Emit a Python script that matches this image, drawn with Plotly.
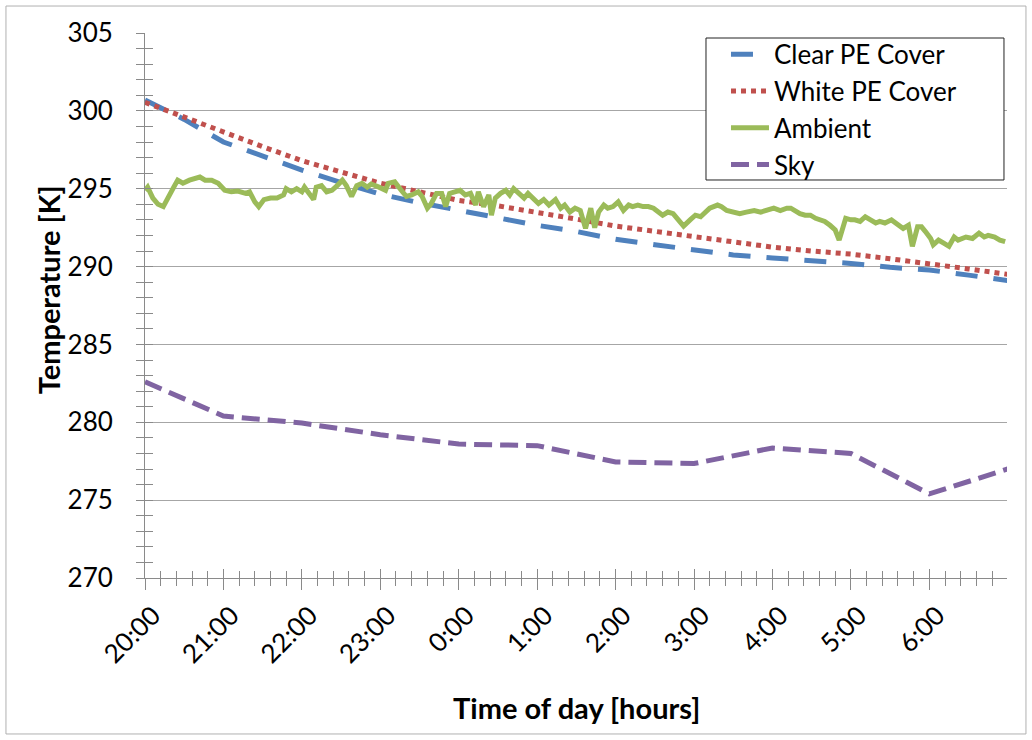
import plotly.graph_objects as go

# ---- data -------------------------------------------------------------
# time axis: hours elapsed since 20:00
hour_ticks = list(range(11))
hour_labels = ["20:00", "21:00", "22:00", "23:00", "0:00", "1:00",
               "2:00", "3:00", "4:00", "5:00", "6:00"]

# cover temperatures, sampled every half hour
cover_hours = [0.0, 0.5, 1.0, 1.5, 2.0, 2.5, 3.0, 3.5, 4.0, 4.5, 5.0, 5.5,
               6.0, 6.5, 7.0, 7.5, 8.0, 8.5, 9.0, 9.5, 10.0, 10.5, 11.0]
clear_pe = [300.7, 299.45, 298.0, 297.1, 296.2, 295.4, 294.65, 294.1, 293.6,
            293.1, 292.65, 292.25, 291.75, 291.4, 291.05, 290.75, 290.55,
            290.38, 290.2, 289.95, 289.78, 289.45, 289.1]
white_pe = [300.55, 299.6, 298.6, 297.7, 296.8, 296.05, 295.35, 294.8, 294.25,
            293.9, 293.5, 293.05, 292.6, 292.25, 291.9, 291.55, 291.25, 291.0,
            290.8, 290.5, 290.2, 289.85, 289.5]

# ambient air temperature (minutes after 20:00)
ambient_min = [0, 2, 6, 10, 14, 18, 22, 25, 29, 34, 38, 42, 46, 51, 56, 61,
               66, 71, 77, 80, 84, 87, 91, 96, 101, 106, 108, 112, 116, 120,
               122, 126, 129, 131, 135, 139, 143, 147, 151, 154, 158, 162,
               166, 170, 173, 179, 184, 186, 191, 196, 200, 204, 209, 212,
               216, 219, 223, 227, 230, 233, 237, 241, 245, 249, 253, 255,
               259, 263, 265, 268, 272, 276, 279, 282, 286, 290, 293, 297,
               301, 305, 309, 314, 318, 321, 325, 329, 333, 337, 341, 344,
               347, 351, 354, 358, 362, 366, 370, 373, 377, 381, 385, 389,
               393, 396, 400, 404, 408, 412, 417, 421, 425, 429, 432, 438,
               441, 445, 450, 455, 460, 466, 471, 476, 481, 486, 491, 494,
               497, 501, 505, 509, 513, 517, 520, 524, 528, 531, 533, 536,
               540, 543, 547, 551, 555, 559, 562, 566, 571, 576, 580, 584,
               587, 591, 594, 597, 601, 603, 607, 611, 615, 619, 622, 628,
               633, 638, 642, 645, 650, 654, 658]
ambient = [294.9, 295.1, 294.4, 294.0, 293.85, 294.4, 295.1, 295.55, 295.35,
           295.55, 295.65, 295.75, 295.55, 295.55, 295.35, 294.9, 294.8,
           294.85, 294.7, 294.8, 294.15, 293.85, 294.3, 294.4, 294.4, 294.6,
           295.0, 294.8, 295.0, 294.8, 295.1, 294.6, 294.3, 295.1, 295.2,
           294.8, 294.9, 295.2, 295.55, 295.2, 294.5, 295.2, 295.35, 295.1,
           295.3, 295.1, 294.9, 295.35, 295.45, 294.9, 294.5, 294.6, 294.8,
           294.5, 293.75, 294.05, 294.7, 294.7, 293.85, 294.7, 294.8, 294.9,
           294.6, 294.7, 293.95, 294.8, 293.85, 294.6, 293.3, 294.4, 294.7,
           294.9, 294.6, 295.0, 294.7, 294.4, 294.7, 294.4, 294.05, 294.3,
           293.95, 294.3, 293.75, 293.95, 293.5, 293.75, 293.6, 292.45,
           293.75, 292.5, 293.5, 293.95, 293.75, 293.85, 294.15, 293.6,
           293.95, 293.85, 293.95, 293.85, 293.85, 293.75, 293.5, 293.3,
           293.5, 293.4, 293.0, 292.6, 293.0, 293.3, 293.2, 293.5, 293.75,
           293.95, 293.85, 293.6, 293.5, 293.4, 293.5, 293.6, 293.5, 293.6,
           293.75, 293.6, 293.75, 293.75, 293.6, 293.4, 293.3, 293.3, 293.1,
           293.0, 292.9, 292.65, 292.35, 291.7, 292.25, 293.1, 293.0, 293.0,
           292.9, 293.2, 293.0, 292.8, 292.9, 292.8, 293.0, 292.65, 292.45,
           292.65, 291.3, 292.55, 292.55, 292.25, 291.8, 291.4, 291.7, 291.5,
           291.3, 291.9, 291.7, 291.9, 291.8, 292.15, 291.9, 292.0, 291.9,
           291.7, 291.6]

# effective sky temperature, hourly
sky_hours = [0, 1, 2, 3, 4, 5, 6, 7, 8, 9, 10, 11]
sky = [282.6, 280.4, 279.95, 279.2, 278.6, 278.5, 277.45, 277.35, 278.35,
       278.0, 275.4, 277.0]

# ---- styling ----------------------------------------------------------
FONT = "Lato"
AXIS_GREY = "#8a8a8a"
GRID_GREY = "#a6a6a6"
X_RANGE = [0, 10.99]
Y_RANGE = [270, 305]
TICK_SIZE = 26
TITLE_SIZE = 29
LEGEND_SIZE = 26

fig = go.Figure()

fig.add_trace(go.Scatter(
    x=cover_hours, y=clear_pe, name="Clear PE Cover", mode="lines",
    line=dict(color="#4F81BD", width=5, dash="22px,16px")))
fig.add_trace(go.Scatter(
    x=cover_hours, y=white_pe, name="White PE Cover", mode="lines",
    line=dict(color="#C0504D", width=5, dash="5px,5px")))
fig.add_trace(go.Scatter(
    x=[m / 60 for m in ambient_min], y=ambient, name="Ambient", mode="lines",
    line=dict(color="#9BBB59", width=5)))
# the sky series lives on the overlay axes that carry the inward tick halves
fig.add_trace(go.Scatter(
    x=sky_hours, y=sky, name="Sky", mode="lines", xaxis="x2", yaxis="y2",
    line=dict(color="#8064A2", width=5, dash="18px,8px")))

fig.update_layout(
    width=1032, height=740,
    margin=dict(l=145, r=25, t=33, b=162),
    paper_bgcolor="white", plot_bgcolor="white",
    font=dict(family=FONT, size=TICK_SIZE, color="black"),
    showlegend=True,
    # legend entries float over a framed white box drawn as a shape below
    legend=dict(
        x=0.674, y=1.004, xanchor="left", yanchor="top",
        bgcolor="rgba(0,0,0,0)", borderwidth=0,
        font=dict(family=FONT, size=LEGEND_SIZE), itemwidth=38,
        traceorder="normal"),
    xaxis=dict(
        range=X_RANGE, tickmode="array", tickvals=hour_ticks,
        ticktext=hour_labels, tickangle=-45,
        showgrid=False, zeroline=False,
        showline=True, linecolor=AXIS_GREY, linewidth=1,
        ticks="outside", ticklen=11, tickcolor=AXIS_GREY, tickwidth=1,
        ticklabelshift=8,
        minor=dict(ticks="outside", ticklen=7, tickcolor=AXIS_GREY,
                   tick0=0, dtick=0.2, showgrid=False),
        tickfont=dict(family=FONT, size=TICK_SIZE)),
    xaxis2=dict(
        overlaying="x", matches="x", range=X_RANGE,
        tickmode="array", tickvals=hour_ticks, showticklabels=False,
        showgrid=False, zeroline=False, showline=False,
        ticks="inside", ticklen=9, tickcolor=AXIS_GREY, tickwidth=1,
        minor=dict(ticks="inside", ticklen=7, tickcolor=AXIS_GREY,
                   tick0=0, dtick=0.2, showgrid=False)),
    yaxis=dict(
        range=Y_RANGE, tick0=270, dtick=5,
        showgrid=True, gridcolor=GRID_GREY, gridwidth=1, zeroline=False,
        showline=True, linecolor=AXIS_GREY, linewidth=1,
        ticks="outside", ticklen=8, tickcolor=AXIS_GREY, tickwidth=1,
        ticklabelstandoff=18,
        minor=dict(ticks="outside", ticklen=8, tickcolor=AXIS_GREY,
                   dtick=1, showgrid=False),
        tickfont=dict(family=FONT, size=TICK_SIZE)),
    yaxis2=dict(
        overlaying="y", matches="y", range=Y_RANGE, tick0=270, dtick=5,
        showticklabels=False, showgrid=False, zeroline=False, showline=False,
        ticks="inside", ticklen=8, tickcolor=AXIS_GREY, tickwidth=1,
        minor=dict(ticks="inside", ticklen=8, tickcolor=AXIS_GREY,
                   dtick=1, showgrid=False)),
    annotations=[
        dict(text="<b>Temperature [K]</b>", textangle=-90,
             xref="paper", yref="paper", x=-0.1125, y=0.528,
             xanchor="center", yanchor="middle", showarrow=False,
             font=dict(family=FONT, size=TITLE_SIZE)),
        dict(text="<b>Time of day [hours]</b>",
             xref="paper", yref="paper", x=0.501, y=-0.2385,
             xanchor="center", yanchor="middle", showarrow=False,
             font=dict(family=FONT, size=TITLE_SIZE)),
    ],
    shapes=[
        # chart-area frame
        dict(type="rect", xref="paper", yref="paper",
             x0=-0.1613, x1=1.022, y0=-0.2862, y1=1.0495,
             line=dict(color="#b0b0b0", width=1), fillcolor="rgba(0,0,0,0)",
             layer="below"),
        # legend box
        dict(type="rect", xref="paper", yref="paper",
             x0=0.6508, x1=0.9965, y0=0.7303, y1=0.9908,
             line=dict(color="#222222", width=1), fillcolor="white",
             layer="above"),
    ],
)

fig.write_html("out.html")
